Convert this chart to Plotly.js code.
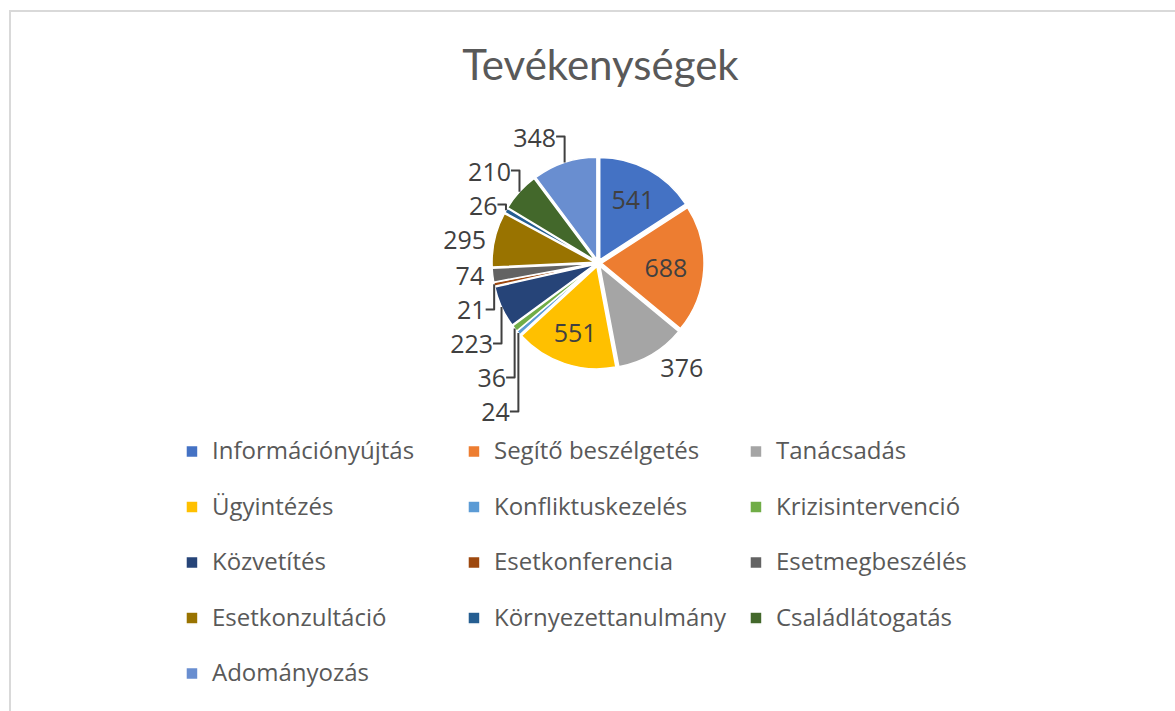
<!DOCTYPE html>
<html>
<head>
<meta charset="utf-8">
<script src="https://cdn.plot.ly/plotly-3.0.1.min.js"></script>
<style>
  html, body { margin: 0; padding: 0; background: #ffffff; }
  #wrap { position: relative; width: 1175px; height: 711px; overflow: hidden; }
  #chart { position: absolute; left: 0; top: 0; width: 1175px; height: 711px; }
  #frame { position: absolute; left: 9px; top: 10px; width: 1200px; height: 720px;
           border-left: 2px solid #d9d9d9; border-top: 2px solid #d9d9d9; pointer-events: none; }
</style>
</head>
<body>
<div id="wrap">
  <div id="chart"></div>
  <div id="frame"></div>
</div>
<script>
// ---- data ----
const chartTitle = "Tevékenységek";
const categories = [
  "Információnyújtás", "Segítő beszélgetés", "Tanácsadás",
  "Ügyintézés", "Konfliktuskezelés", "Krizisintervenció",
  "Közvetítés", "Esetkonferencia", "Esetmegbeszélés",
  "Esetkonzultáció", "Környezettanulmány", "Családlátogatás",
  "Adományozás"
];
const values = [541, 688, 376, 551, 24, 36, 223, 21, 74, 295, 26, 210, 348];
const colors = [
  "#4472C4", "#ED7D31", "#A5A5A5", "#FFC000", "#5B9BD5", "#70AD47",
  "#264478", "#9E480E", "#636363", "#997300", "#255E91", "#43682B",
  "#698ED0"
];
const labelInside = [true, true, false, true, false, false, false, false, false, false, false, false, false];

// ---- chart ----
const legendLabels = categories.map(c => '<span style="font-size:24px">' + c + '</span><br> ');

const trace = {
  type: 'pie',
  labels: legendLabels,
  values: values,
  customdata: categories,
  sort: false,
  direction: 'clockwise',
  rotation: 0,
  pull: 0.035,
  marker: { colors: colors, line: { color: '#ffffff', width: 1.5 } },
  textinfo: 'value',
  textposition: labelInside.map(b => b ? 'inside' : 'outside'),
  insidetextorientation: 'horizontal',
  textfont: { family: 'Open Sans, sans-serif', size: 25, color: '#404040' },
  outsidetextfont: { family: 'Open Sans, sans-serif', size: 25, color: '#404040' },
  insidetextfont: { family: 'Open Sans, sans-serif', size: 25, color: '#404040' },
  hovertemplate: '%{customdata}: %{value}<extra></extra>',
  domain: { x: [0, 1], y: [0.4946, 0.8203] },
  automargin: false
};

const layout = {
  width: 1175,
  height: 711,
  paper_bgcolor: '#ffffff',
  plot_bgcolor: '#ffffff',
  margin: { l: 48, r: 27, t: 40, b: 20, autoexpand: false },
  title: {
    text: chartTitle,
    font: { family: 'Lato, sans-serif', size: 42, color: '#595959' },
    x: 0.511, xanchor: 'center',
    y: 0.908, yanchor: 'middle'
  },
  showlegend: true,
  legend: {
    orientation: 'h',
    x: 0.1127, xanchor: 'left',
    y: 0.398, yanchor: 'top',
    entrywidth: 237,
    entrywidthmode: 'pixels',
    valign: 'top',
    traceorder: 'normal',
    font: { family: 'Open Sans, sans-serif', size: 20.2, color: '#595959' }
  }
};

Plotly.newPlot('chart', [trace], layout, { displayModeBar: false, staticPlot: true });
</script>
</body>
</html>
